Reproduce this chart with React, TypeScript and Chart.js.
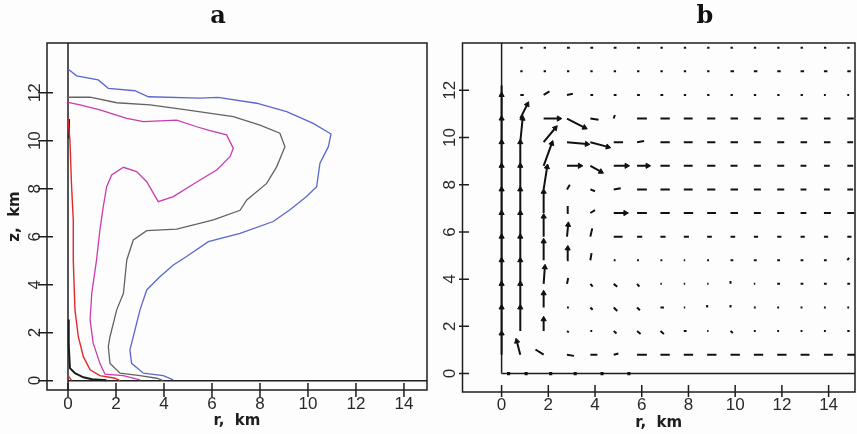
import React, { useEffect, useRef } from 'react';
import { Chart, registerables } from 'chart.js';
Chart.register(...registerables);

// ---------- shared tick labels ----------
const X_TICKS = [0, 2, 4, 6, 8, 10, 12, 14];
const Y_TICKS = [0, 2, 4, 6, 8, 10, 12];

// ---------- panel a: contour lines [r, z] ----------
type P = [number, number];
const BLUE: P[] = [[0,12.99],[0.36,12.7],[1.26,12.53],[1.68,12.18],[2.79,12.08],[3.35,11.83],[5.5,11.77],[6.25,11.8],[7.86,11.56],[9.11,11.21],[10.22,10.72],[10.96,10.28],[10.85,9.75],[10.5,9.06],[10.36,8.08],[9.94,7.67],[9.25,7.12],[8.55,6.63],[7.17,6.14],[5.85,5.79],[4.94,5.17],[4.39,4.82],[3.83,4.33],[3.28,3.78],[3.0,2.95],[2.79,2.11],[2.58,1.28],[2.65,0.72],[3.14,0.31],[3.97,0.21],[4.39,0.03]];
const GREY: P[] = [[0,11.81],[0.92,11.81],[2.03,11.58],[3.42,11.49],[4.94,11.28],[6.89,11.0],[8.0,10.65],[8.83,10.31],[9.04,9.75],[8.7,8.92],[8.28,8.22],[7.45,7.53],[7.17,7.1],[6.06,6.7],[4.53,6.31],[3.28,6.25],[2.72,5.86],[2.45,5.03],[2.31,3.64],[2.03,2.95],[1.75,1.83],[1.68,1.42],[1.75,0.72],[2.17,0.31],[3.0,0.21],[3.7,0.1],[3.97,0]];
const MAGENTA: P[] = [[0,11.6],[0.5,11.49],[1.33,11.28],[2.45,10.93],[3.14,10.79],[4.53,10.86],[5.36,10.58],[5.92,10.42],[6.61,10.24],[6.89,9.68],[6.75,9.33],[6.2,8.78],[5.5,8.36],[4.39,7.67],[3.76,7.46],[3.28,8.29],[2.86,8.71],[2.31,8.89],[1.82,8.57],[1.61,8.08],[1.47,7.25],[1.33,6.28],[1.19,5.03],[0.99,3.64],[0.92,2.53],[1.05,1.56],[1.33,0.72],[1.54,0.27],[2.3,0.21],[3.0,0.03]];
const RED_MAIN: P[] = [[0,10.93],[0.08,10.03],[0.15,8.08],[0.22,6.7],[0.22,5.03],[0.29,2.95],[0.43,1.83],[0.64,1.0],[0.92,0.45],[1.33,0.21],[1.96,0.1],[2.17,0]];
const RED_SMALL: P[] = [[0,0.22],[0.15,0]];
const BLACK_TOP: P[] = [[0.04,10.9],[0.04,10.1]];
const BLACK_LOW: P[] = [[0.03,2.55],[0.03,1.5],[0.08,0.52],[0.29,0.31],[0.64,0.14],[1.0,0.06],[1.6,0.02]];

// ---------- panel b: velocity field ----------
const COL_R = [0, 0.8, 1.8, 2.8, 3.8, 4.8, 5.8, 6.8, 7.8, 8.8, 9.8, 10.8, 11.8, 12.8, 13.8, 14.8];
const ROW_Z = [0.8, 1.8, 2.8, 3.8, 4.8, 5.8, 6.8, 7.8, 8.8, 9.8, 10.8, 11.8, 12.8, 13.8];
// radial component (km of arrow length), one row per ROW_Z
const U_ROWS = [
  [0, -0.15, -0.35, 0.3, 0.3, 0.2, 0.42, 0.4, 0.4, 0.4, 0.4, 0.4, 0.4, 0.38, 0.38, 0.38],
  [0, 0, 0, 0.08, 0.08, 0.12, 0.15, 0.15, 0.12, 0.06, 0.1, 0.08, 0.08, 0.08, 0.08, 0.1],
  [0, 0, 0, 0.08, 0.1, 0.15, 0.12, 0.15, 0.06, 0, 0, 0.08, 0.08, 0.08, 0.08, 0.08],
  [0, 0, 0.05, 0.05, 0.1, 0.15, 0.1, 0.06, 0.06, 0.06, 0, 0.06, 0.12, 0.12, 0.12, 0.12],
  [0, 0, 0, 0.03, 0.05, 0.08, 0.08, 0.08, 0.06, 0.08, 0.12, 0.12, 0.12, 0.12, 0.12, 0.08],
  [0, 0, 0, 0.05, 0.08, 0.38, 0.22, 0.22, 0.22, 0.2, 0.2, 0.18, 0.18, 0.18, 0.18, 0.18],
  [0, 0, 0, 0.03, 0.2, 0.5, 0.42, 0.4, 0.4, 0.38, 0.32, 0.3, 0.3, 0.25, 0.3, 0.3],
  [0, 0, 0.15, 0.12, 0.2, 0.3, 0.42, 0.4, 0.38, 0.35, 0.32, 0.3, 0.3, 0.25, 0.25, 0.25],
  [0, 0, 0.35, 0.55, 0.45, 0.55, 0.45, 0.4, 0.38, 0.35, 0.3, 0.3, 0.3, 0.25, 0.25, 0.25],
  [0, 0.1, 0.5, 0.85, 0.75, 0.4, 0.3, 0.4, 0.38, 0.35, 0.32, 0.3, 0.3, 0.28, 0.28, 0.25],
  [0, 0.3, 0.65, 0.75, 0.35, 0.05, 0.42, 0.4, 0.38, 0.35, 0.32, 0.3, 0.3, 0.3, 0.28, 0.28],
  [0, 0.15, 0.25, 0.25, 0.12, 0.12, 0.12, 0.12, 0.1, 0.1, 0.1, 0.1, 0.1, 0.1, 0.08, 0.08],
  [0, 0.1, 0.1, 0.1, 0.1, 0.1, 0.1, 0.1, 0.1, 0.1, 0.15, 0.15, 0.15, 0.15, 0.15, 0.15],
  [0, 0.1, 0.1, 0.12, 0.12, 0.12, 0.12, 0.1, 0.1, 0.1, 0.1, 0.1, 0.1, 0.1, 0.1, 0.1],
];
// vertical component
const W_ROWS = [
  [0.9, 0.57, 0.22, -0.05, 0, 0.05, 0, 0, 0, 0, 0, 0, 0, 0, 0, 0],
  [1, 1, 0.5, -0.05, 0, -0.1, -0.12, -0.12, 0, 0, -0.08, 0, 0, 0, 0, 0],
  [1, 1, 0.6, 0, -0.1, -0.15, -0.12, 0, 0, 0.1, 0.1, 0, 0, 0, 0, 0],
  [1, 1, 0.7, 0.25, -0.12, -0.12, -0.12, 0, 0, 0, 0.12, 0, 0, 0, 0, 0],
  [1, 1, 0.8, 0.5, 0.3, 0, 0, 0, 0, 0, 0, 0, 0, 0, 0, 0.1],
  [1, 1, 0.85, 0.5, 0.35, 0, 0, 0, 0, 0, 0, 0, 0, 0, 0, 0],
  [1, 1, 0.9, 0.3, 0.12, 0, 0, 0, 0, 0, 0, 0, 0, 0, 0, 0],
  [1, 1, 0.95, 0.2, -0.08, 0.05, 0, 0, 0, 0, 0, 0, 0, 0, 0, 0],
  [1, 1, 0.95, 0, -0.25, 0, 0, 0, 0, 0, 0, 0, 0, 0, 0, 0],
  [1, 1, 0.6, -0.08, -0.2, 0, 0.05, 0, 0, 0, 0, 0, 0, 0, 0, 0],
  [1, 0.6, 0, -0.38, -0.05, 0.15, 0, 0, 0, 0, 0, 0, 0, 0, 0, 0],
  [0.4, 0, 0.15, 0.05, 0, 0, 0, 0, 0, 0, 0, 0, 0, 0, 0, 0],
  [0, 0, 0, 0, 0, 0, 0, 0, 0, 0, 0, 0, 0, 0, 0, 0],
  [0, 0, 0, 0, 0, 0, 0, 0, 0, 0, 0, 0, 0, 0, 0, 0],
];
const GROUND_R = [0.3, 1.05, 2.1, 3.15, 4.3, 5.45];

// ---------- helpers ----------
function segs(list: P[][]) {
  const out: any[] = [];
  list.forEach((seg, i) => {
    if (i > 0) out.push({ x: seg[0][0], y: null });
    seg.forEach(([x, y]) => out.push({ x, y }));
  });
  return out;
}

const framePlugin = {
  id: 'frame',
  beforeDatasetsDraw(chart: any, _a: any, o: any) {
    const { ctx, chartArea: ca, scales } = chart;
    const x0 = scales.x.getPixelForValue(0);
    const y0 = scales.y.getPixelForValue(0);
    ctx.save();
    ctx.strokeStyle = '#1e1e1e';
    ctx.lineWidth = 1.5;
    ctx.beginPath();
    ctx.moveTo(x0, ca.top);
    ctx.lineTo(x0, o.vFull ? ca.bottom : y0);
    ctx.moveTo(x0, y0);
    ctx.lineTo(ca.right, y0);
    ctx.stroke();
    ctx.restore();
  },
  afterDraw(chart: any, _a: any, o: any) {
    const { ctx, chartArea: ca, scales } = chart;
    ctx.save();
    ctx.strokeStyle = '#1e1e1e';
    ctx.lineWidth = 1.5;
    ctx.strokeRect(ca.left, ca.top, ca.right - ca.left, ca.bottom - ca.top);
    ctx.beginPath();
    scales.x.ticks.forEach((t: any) => {
      const px = scales.x.getPixelForValue(t.value);
      ctx.moveTo(px, ca.bottom - o.xIn);
      ctx.lineTo(px, ca.bottom + o.xOut);
    });
    scales.y.ticks.forEach((t: any) => {
      const py = scales.y.getPixelForValue(t.value);
      ctx.moveTo(ca.left - o.yOut, py);
      ctx.lineTo(ca.left + o.yIn, py);
    });
    ctx.stroke();
    ctx.restore();
  },
};

const tickFont = { family: '"Liberation Sans", Arial, sans-serif', size: 17 };
const titleFont = { family: '"DejaVu Sans", sans-serif', size: 15, weight: 'bold' as const };

function axes(xr: [number, number], yr: [number, number], yWidth: number, xHeight: number, yPad: number, xPad: number, xTitlePad: number, withYTitle: boolean) {
  return {
    x: {
      type: 'linear' as const,
      min: xr[0],
      max: xr[1],
      afterBuildTicks: (s: any) => { s.ticks = X_TICKS.map((v) => ({ value: v })); },
      afterFit: (s: any) => { s.height = xHeight; },
      grid: { display: false, drawTicks: false },
      border: { display: false },
      ticks: { font: tickFont, color: '#2a2a2a', padding: xPad, maxRotation: 0, autoSkip: false },
      title: { display: true, text: 'r,  km', font: titleFont, color: '#1e1e1e', padding: { top: 0, bottom: xTitlePad } },
    },
    y: {
      type: 'linear' as const,
      min: yr[0],
      max: yr[1],
      afterBuildTicks: (s: any) => { s.ticks = Y_TICKS.map((v) => ({ value: v })); },
      afterFit: (s: any) => { s.width = yWidth; },
      grid: { display: false, drawTicks: false },
      border: { display: false },
      ticks: { font: tickFont, color: '#2a2a2a', padding: yPad, minRotation: 90, maxRotation: 90, crossAlign: 'center' as const, autoSkip: false },
      title: { display: withYTitle, text: 'z,  km', font: titleFont, color: '#1e1e1e', padding: { top: 5.7, bottom: 0 } },
    },
  };
}

function contour(data: any[], color: string, width: number) {
  return { data, showLine: true, borderColor: color, backgroundColor: color, borderWidth: width, pointRadius: 0, spanGaps: false, tension: 0 };
}

export default function App() {
  const refA = useRef<HTMLCanvasElement>(null);
  const refB = useRef<HTMLCanvasElement>(null);

  useEffect(() => {
    const chartA = new Chart(refA.current!, {
      type: 'scatter',
      data: {
        datasets: [
          contour(segs([BLUE]), '#5a68cc', 1.3),
          contour(segs([GREY]), '#636363', 1.3),
          contour(segs([MAGENTA]), '#c83cb0', 1.3),
          contour(segs([RED_MAIN, RED_SMALL]), '#e02a2a', 1.4),
          contour(segs([BLACK_TOP, BLACK_LOW]), '#1a1a1a', 2),
        ],
      },
      options: {
        animation: false,
        responsive: false,
        events: [],
        layout: { padding: { top: 43, right: 3, left: 0, bottom: 0 } },
        plugins: { legend: { display: false }, tooltip: { enabled: false }, frame: { vFull: true, xIn: 7, xOut: 7, yIn: 6, yOut: 9 } } as any,
        scales: axes([-0.875, 14.96], [-0.39, 14.07], 47, 44, 2, 4, 3.5, true),
      },
      plugins: [framePlugin],
    });

    const shafts: any[] = [];
    const heads: any[] = [];
    const headRot: number[] = [];
    ROW_Z.forEach((z, i) => {
      COL_R.forEach((r, j) => {
        const u = U_ROWS[i][j];
        const w = W_ROWS[i][j];
        if (u === 0 && w === 0) return;
        shafts.push({ x: r, y: z }, { x: r + u, y: z + w }, { x: r + u, y: null });
        if (Math.hypot(u, w) >= 0.45) {
          heads.push({ x: r + u, y: z + w });
          headRot.push(90 - (Math.atan2(w, u) * 180) / Math.PI);
        }
      });
    });
    const ground = GROUND_R.map((r) => ({ x: r, y: 0 }));

    const chartB = new Chart(refB.current!, {
      type: 'scatter',
      data: {
        datasets: [
          { data: shafts, showLine: true, borderColor: '#111', backgroundColor: '#111', borderWidth: 2, borderCapStyle: 'butt', pointRadius: 0, spanGaps: false },
          { data: heads, showLine: false, pointStyle: 'triangle', pointRadius: 3, rotation: (c: any) => headRot[c.dataIndex] ?? 0, backgroundColor: '#111', borderColor: '#111', borderWidth: 1 },
          { data: ground, showLine: false, pointStyle: 'rect', pointRadius: 2.2, backgroundColor: '#111', borderColor: '#111', borderWidth: 0 },
        ] as any,
      },
      options: {
        animation: false,
        responsive: false,
        events: [],
        layout: { padding: { top: 43, right: 1, left: 0, bottom: 0 } },
        plugins: { legend: { display: false }, tooltip: { enabled: false }, frame: { vFull: false, xIn: 7, xOut: 5, yIn: 6.5, yOut: 3.5 } } as any,
        scales: axes([-1.674, 15.13], [-0.78, 14.0], 32.5, 42, 3.2, 3, 2.3, false),
      },
      plugins: [framePlugin],
    });

    return () => {
      chartA.destroy();
      chartB.destroy();
    };
  }, []);

  const titleStyle: React.CSSProperties = {
    position: 'absolute',
    top: 3,
    width: 40,
    textAlign: 'center',
    font: 'bold 24px "DejaVu Serif", serif',
    lineHeight: '24px',
    color: '#111',
  };

  return (
    <div style={{ position: 'fixed', left: 0, top: 0, width: 857, height: 434, overflow: 'hidden', background: '#fdfdfd' }}>
      <canvas ref={refA} width={430} height={434} style={{ position: 'absolute', left: 0, top: 0 }} />
      <canvas ref={refB} width={430} height={434} style={{ position: 'absolute', left: 430, top: 0 }} />
      <div style={{ ...titleStyle, left: 198 }}>a</div>
      <div style={{ ...titleStyle, left: 685 }}>b</div>
    </div>
  );
}
